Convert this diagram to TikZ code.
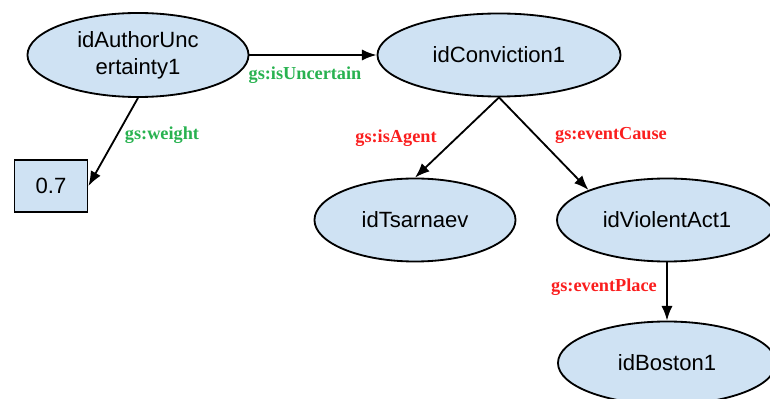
\documentclass[tikz,border=0pt]{standalone}
\usepackage{fontspec}
\setmainfont{Liberation Serif}
\newfontfamily\nodefont{Liberation Sans}
\usetikzlibrary{arrows.meta,shapes.geometric}

\definecolor{nodeblue}{RGB}{207,226,243}
\definecolor{labgreen}{RGB}{40,178,80}
\definecolor{labred}{RGB}{250,30,30}

\tikzset{
    entity/.style={ellipse, draw, fill=nodeblue, line width=1.3pt, inner sep=0pt, minimum height=2.075cm, align=center, font=\nodefont\fontsize{15.7}{19}\selectfont},
    literal/.style={rectangle, draw, fill=nodeblue, line width=1.3pt, minimum width=1.825cm, minimum height=1.3cm, inner sep=0pt, font=\nodefont\fontsize{15.7}{19}\selectfont},
    rel/.style={draw, line width=1.3pt, -{Latex[length=10.5pt,width=8pt]}},
    glab/.style={text=labgreen, font=\bfseries\fontsize{13}{15}\selectfont, inner sep=0pt},
    rlab/.style={text=labred, font=\bfseries\fontsize{13}{15}\selectfont, inner sep=0pt}
}

\begin{document}
\begin{tikzpicture}[x=0.025cm, y=-0.025cm]

    \useasboundingbox (0,0) rectangle (770,399);
    \clip (0,0) rectangle (770,399);

    \node[entity, minimum width=5.525cm, minimum height=2.1cm] at (138,55) (AuthUnc) {idAuthorUnc\\ertainty1};
    \node[literal] at (51,186) (Weight) {0.7};
    \node[entity, minimum width=6.075cm] at (499,55) (Conv) {idConviction1};
    \node[entity, minimum width=5.025cm] at (415,220) (Tsar) {idTsarnaev};
    \node[entity, minimum width=5.5cm] at (667,220) (Violent) {idViolentAct1};
    \node[entity, minimum width=5.45cm] at (667,363) (Boston) {idBoston1};

    \node[glab] at (305,75) {gs:isUncertain};
    \node[glab] at (162,135) {gs:weight};
    \node[rlab] at (396,138) {gs:isAgent};
    \node[rlab] at (611,135) {gs:eventCause};
    \node[rlab] at (604,287) {gs:eventPlace};

    \draw[rel] (AuthUnc.east) -- (Conv.west);
    \draw[rel] (AuthUnc.south) -- (Weight.east);
    \draw[rel] (Conv.south) -- (Tsar.north);
    \draw[rel] (Conv.south) -- (Violent.north west);
    \draw[rel] (Violent.south) -- (Boston.north);
\end{tikzpicture}
\end{document}
